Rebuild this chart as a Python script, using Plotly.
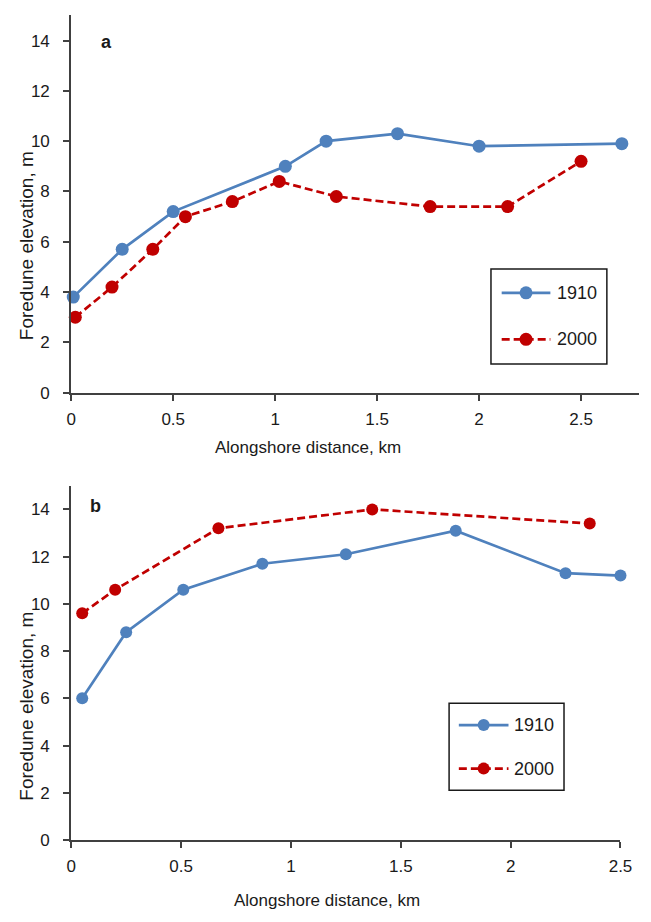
import plotly.graph_objects as go

# Foredune elevation profiles along the shore, two sites (a, b)
series_names = ["1910", "2000"]
series_colors = ["#4F81BD", "#C00000"]
series_dash = ["solid", "8px,4px"]

a_1910_km = [0.01, 0.25, 0.5, 1.05, 1.25, 1.6, 2.0, 2.7]
a_1910_m = [3.8, 5.7, 7.2, 9.0, 10.0, 10.3, 9.8, 9.9]
a_2000_km = [0.02, 0.2, 0.4, 0.56, 0.79, 1.02, 1.3, 1.76, 2.14, 2.5]
a_2000_m = [3.0, 4.2, 5.7, 7.0, 7.6, 8.4, 7.8, 7.4, 7.4, 9.2]

b_1910_km = [0.05, 0.25, 0.51, 0.87, 1.25, 1.75, 2.25, 2.5]
b_1910_m = [6.0, 8.8, 10.6, 11.7, 12.1, 13.1, 11.3, 11.2]
b_2000_km = [0.05, 0.2, 0.67, 1.37, 2.36]
b_2000_m = [9.6, 10.6, 13.2, 14.0, 13.4]

x_ticks = [0, 0.5, 1, 1.5, 2, 2.5]
x_tick_text = ["0", "0.5", "1", "1.5", "2", "2.5"]
y_ticks = [0, 2, 4, 6, 8, 10, 12, 14]

W, H = 651, 922
SANS = "Liberation Sans, Arial, sans-serif"
TXT = "#1a1a1a"
AX = "#404040"


def px(x):
    return x / W


def py(y):
    return 1 - y / H


fig = go.Figure()

panels = [
    dict(xa="x", ya="y", data=[(a_1910_km, a_1910_m), (a_2000_km, a_2000_m)], msize=13),
    dict(xa="x2", ya="y2", data=[(b_1910_km, b_1910_m), (b_2000_km, b_2000_m)], msize=12),
]

for p in panels:
    for i, (xs, ys) in enumerate(p["data"]):
        fig.add_trace(go.Scatter(
            x=xs, y=ys, xaxis=p["xa"], yaxis=p["ya"],
            name=series_names[i], showlegend=False, mode="lines+markers",
            line=dict(color=series_colors[i], width=2.7, dash=series_dash[i]),
            marker=dict(color=series_colors[i], size=p["msize"], symbol="circle"),
            cliponaxis=False,
        ))

axis_common = dict(
    showline=True, linecolor=AX, linewidth=2, ticks="outside", ticklen=6,
    tickwidth=1.5, tickcolor=AX, showgrid=False, zeroline=False,
    tickfont=dict(family=SANS, size=17, color=TXT),
)

fig.update_layout(
    width=W, height=H, margin=dict(l=0, r=0, t=0, b=0),
    paper_bgcolor="white", plot_bgcolor="white", showlegend=False,
    xaxis=dict(axis_common, domain=[px(68), 1.0], range=[0, (W - 68) / 209.4],
               tickvals=x_ticks, ticktext=x_tick_text, anchor="y",
               ticklabelstandoff=4),
    yaxis=dict(axis_common, domain=[py(397), py(15.6)], range=[0, 15],
               tickvals=y_ticks, anchor="x", ticklabelstandoff=10),
    xaxis2=dict(axis_common, domain=[px(68), px(632)], range=[0, 2.5],
                tickvals=x_ticks, ticktext=x_tick_text, anchor="y2",
                ticklabelstandoff=4),
    yaxis2=dict(axis_common, domain=[py(849.3), py(491.1)], range=[0, 15],
                tickvals=y_ticks, anchor="x2", ticklabelstandoff=10),
)

annotations = []
shapes = []

# axis titles and panel letters
for (cx, cy) in [(311, 452), (331, 910)]:
    annotations.append(dict(
        text="Alongshore distance, km", x=px(cx), y=py(cy), xref="paper", yref="paper",
        xanchor="center", yanchor="middle", showarrow=False,
        font=dict(family=SANS, size=17, color=TXT)))
for (cx, cy) in [(22, 248.5), (22, 714)]:
    annotations.append(dict(
        text="Foredune elevation, m", x=px(cx), y=py(cy), xref="paper", yref="paper",
        xanchor="center", yanchor="middle", showarrow=False, textangle=-90,
        font=dict(family=SANS, size=19, color=TXT)))
for (lbl, cx, cy) in [("a", 104, 42), ("b", 93, 512)]:
    annotations.append(dict(
        text="<b>%s</b>" % lbl, x=px(cx), y=py(cy), xref="paper", yref="paper",
        xanchor="center", yanchor="middle", showarrow=False,
        font=dict(family=SANS, size=18, color=TXT)))

# legend boxes: (left, top, right, bottom, row centres, sample x0, x1, text x, marker size)
legends = [
    (499, 272, 618, 368, [296, 343], 510, 560, 565, 13),
    (456, 711, 574, 799, [733, 777], 466, 517, 521, 12),
]
for (l, t, r, b, rows, s0, s1, tx, ms) in legends:
    shapes.append(dict(type="rect", xref="paper", yref="paper",
                       x0=px(l), x1=px(r), y0=py(b), y1=py(t),
                       line=dict(color="#1a1a1a", width=1.5), fillcolor="white",
                       layer="above"))
    for i, ry in enumerate(rows):
        shapes.append(dict(type="line", xref="paper", yref="paper",
                           x0=px(s0), x1=px(s1), y0=py(ry), y1=py(ry),
                           line=dict(color=series_colors[i], width=2.7, dash=series_dash[i]),
                           layer="above"))
        mx = (s0 + s1) / 2
        shapes.append(dict(type="circle", xref="paper", yref="paper",
                           xsizemode="pixel", ysizemode="pixel",
                           xanchor=px(mx), yanchor=py(ry),
                           x0=-ms / 2, x1=ms / 2, y0=-ms / 2, y1=ms / 2,
                           line=dict(width=0), fillcolor=series_colors[i],
                           layer="above"))
        annotations.append(dict(
            text=series_names[i], x=px(tx), y=py(ry), xref="paper", yref="paper",
            xanchor="left", yanchor="middle", showarrow=False,
            font=dict(family=SANS, size=18, color=TXT)))

fig.update_layout(annotations=annotations, shapes=shapes)

fig.write_html("out.html")
